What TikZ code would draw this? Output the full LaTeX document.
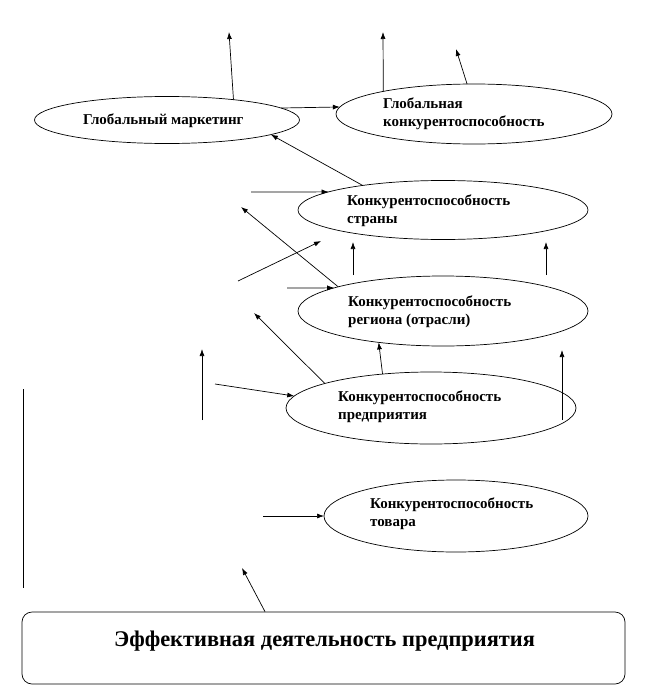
\documentclass[tikz,border=0pt]{standalone}
\usepackage{fontspec}
\setmainfont{Liberation Serif}
\usetikzlibrary{shapes.geometric,arrows.meta,calc}
\begin{document}
\begin{tikzpicture}[x=1pt,y=-1pt,
  oval/.style={ellipse,draw=black,line width=0.7pt,inner sep=0pt,outer sep=0pt},
  lbl/.style={anchor=base west,inner sep=0pt,font=\bfseries\fontsize{15}{17.5}\selectfont,align=left},
  arr/.style={line width=0.7pt,-{Latex[length=7pt,width=5pt]}},
  ln/.style={line width=0.7pt}]
\useasboundingbox[fill=white] (0,0) rectangle (660,696);

% ellipses
\node[oval,minimum width=265pt,minimum height=47pt] (gm) at (167,120) {};
\node[oval,minimum width=276pt,minimum height=60pt] (gk) at (474,114) {};
\node[oval,minimum width=290pt,minimum height=59pt] (ks) at (443,210) {};
\node[oval,minimum width=290pt,minimum height=70pt] (kr) at (443,311) {};
\node[oval,minimum width=290pt,minimum height=72pt] (kp) at (431,408) {};
\node[oval,minimum width=264pt,minimum height=72pt] (kt) at (456,516) {};
\node[draw,rounded corners=10pt,line width=0.7pt,minimum width=603pt,minimum height=72pt,inner sep=0pt] (box) at (323.5,648) {};

% texts (base = baseline of the last line)
\node[lbl] (tgm) at (83,124.5) {Глобальный маркетинг};
\node[lbl] (tgk) at (383,126) {Глобальная\\конкурентоспособность};
\node[lbl] (tks) at (347,223) {Конкурентоспособность\\страны};
\node[lbl] (tkr) at (348,324) {Конкурентоспособность\\региона (отрасли)};
\node[lbl] (tkp) at (338,419) {Конкурентоспособность\\предприятия};
\node[lbl] (tkt) at (370,526) {Конкурентоспособность\\товара};
\node[anchor=base,inner sep=0pt,font=\bfseries\fontsize{22.4}{26}\selectfont] (tbox) at (324.5,646) {Эффективная деятельность предприятия};

% free ends
\coordinate (a1) at (229,32);
\coordinate (a3) at (383,32);
\coordinate (a4) at (456,49);
\coordinate (a6) at (251,192);
\coordinate (a7) at (241,207);
\coordinate (a8s) at (238,281);
\coordinate (a8e) at (321,241);
\coordinate (a9s) at (353,275);
\coordinate (a9e) at (353,242);
\coordinate (a10s) at (546,275);
\coordinate (a10e) at (546,242);
\coordinate (a11) at (287,288);
\coordinate (a12) at (254,313);
\coordinate (a14s) at (562,420);
\coordinate (a14e) at (562,350);
\coordinate (a15s) at (202,420);
\coordinate (a15e) at (202,349);
\coordinate (a16) at (215,384);
\coordinate (l17s) at (23,389);
\coordinate (l17e) at (23,588);
\coordinate (a18) at (263,516);
\coordinate (a19) at (242,568);

% connectors
\draw[arr] (gm.17.8) -- (a1);
\draw[arr] (gm.6) -- (gk.177.5);
\draw[arr] (gk.166.1) -- (a3);
\draw[arr] (gk.103.1) -- (a4);
\draw[arr] (ks.163.7) -- (gm.-8.5);
\draw[arr] (a6) -- (ks.171);
\draw[arr] (kr.167.8) -- (a7);
\draw[arr] (a8s) -- (a8e);
\draw[arr] (a9s) -- (a9e);
\draw[arr] (a10s) -- (a10e);
\draw[arr] (a11) -- (kr.168.1);
\draw[arr] (kp.167.5) -- (a12);
\draw[arr] (kp.145.9) -- (kr.206.6);
\draw[arr] (a14s) -- (a14e);
\draw[arr] (a15s) -- (a15e);
\draw[arr] (a16) -- (kp.175);
\draw[ln] (l17s) -- (l17e);
\draw[arr] (a18) -- (kt.west);
\draw[arr] ($(box.north)+(-58.5,0)$) -- (a19);
\end{tikzpicture}
\end{document}
